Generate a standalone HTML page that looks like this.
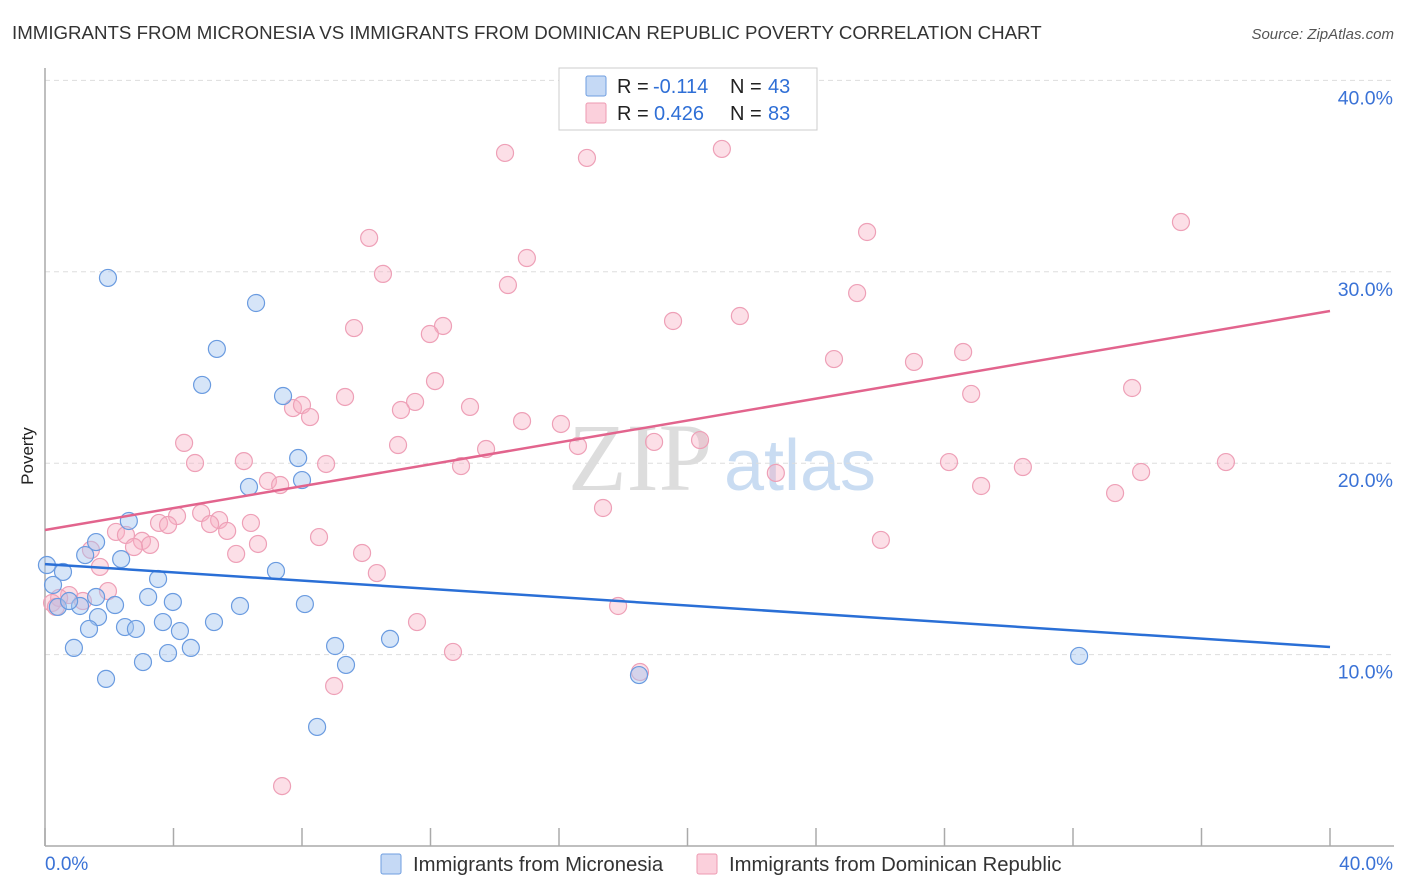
<!DOCTYPE html>
<html><head><meta charset="utf-8"><style>
body{margin:0;background:#fff;font-family:"Liberation Sans",sans-serif;}
svg{display:block}
</style></head><body>
<svg id="chart" width="1406" height="892">
<text x="12" y="39" font-size="18.7" fill="#333">IMMIGRANTS FROM MICRONESIA VS IMMIGRANTS FROM DOMINICAN REPUBLIC POVERTY CORRELATION CHART</text>
<text x="1394" y="39" font-size="15" fill="#555" font-style="italic" text-anchor="end">Source: ZipAtlas.com</text>
<text x="33" y="456" font-size="17" fill="#222" text-anchor="middle" transform="rotate(-90 33 456)">Poverty</text>
<text x="640" y="490" font-size="96" fill="#ddd" font-family="Liberation Serif,serif" text-anchor="middle">ZIP</text>
<text x="800" y="490" font-size="72" fill="#c9dcf2" text-anchor="middle">atlas</text>
<g id="grid"></g><g id="axes"></g><g id="pts"></g><g id="lines"></g>
<g>
<rect x="559" y="68" width="258" height="62" fill="#fff" stroke="#ccc"/>
<rect x="586" y="76" width="20" height="20" fill="#c5d9f5" stroke="#6f9ee0" rx="2"/>
<rect x="586" y="103" width="20" height="20" fill="#fbd0dc" stroke="#ee9ab2" rx="2"/>
<text x="617" y="93" font-size="20" fill="#222">R = <tspan x="653" fill="#2f6fd6">-0.114</tspan><tspan x="730">N = </tspan><tspan x="768" fill="#2f6fd6">43</tspan></text>
<text x="617" y="120" font-size="20" fill="#222">R = <tspan x="654" fill="#2f6fd6">0.426</tspan><tspan x="730">N = </tspan><tspan x="768" fill="#2f6fd6">83</tspan></text>
</g>
<g>
<rect x="381" y="854" width="20" height="20" fill="#c5d9f5" stroke="#6f9ee0" rx="2"/>
<text x="413" y="871" font-size="20.3" fill="#333">Immigrants from Micronesia</text>
<rect x="697" y="854" width="20" height="20" fill="#fbd0dc" stroke="#ee9ab2" rx="2"/>
<text x="729" y="871" font-size="20.3" fill="#333">Immigrants from Dominican Republic</text>
</g>
</svg>
<script>
const blueX=[1.96,6.57,5.35,4.89,7.41,7.88,8.00,6.35,2.61,1.59,1.25,2.37,0.06,0.56,7.19,3.52,0.25,3.21,1.59,3.98,2.18,0.40,1.09,8.09,6.07,0.75,1.65,3.67,5.26,2.49,2.83,1.37,4.20,10.74,9.03,0.90,3.83,4.54,3.05,9.37,1.90,18.49,32.19,8.47];
const blueY=[29.68,28.37,25.97,24.09,23.51,20.27,19.12,18.76,16.98,15.88,15.20,14.99,14.68,14.32,14.37,13.95,13.64,13.01,13.01,12.75,12.59,12.49,12.54,12.64,12.54,12.80,11.96,11.70,11.70,11.44,11.34,11.34,11.23,10.82,10.45,10.35,10.08,10.35,9.61,9.46,8.73,8.93,9.93,6.22];
const pinkX=[14.32,16.87,21.07,35.36,25.59,10.09,15.00,10.52,14.41,25.28,21.63,19.55,9.62,12.39,11.98,24.56,27.05,28.58,12.14,33.84,9.34,28.83,11.52,7.72,8.00,11.08,8.25,13.23,14.85,16.06,4.33,10.99,18.96,20.39,16.59,13.73,22.75,4.67,6.19,8.75,12.95,28.14,30.44,36.76,34.12,6.94,7.32,29.14,33.31,17.37,4.86,4.11,5.42,3.55,3.83,6.41,5.14,5.67,2.21,2.52,3.02,3.27,2.77,8.53,6.63,26.02,5.95,9.87,1.43,1.71,10.33,1.96,0.75,0.44,0.22,1.18,0.34,17.84,11.58,12.70,18.52,9.00,7.38];
const pinkY=[36.21,35.95,36.42,32.60,32.08,31.77,30.72,29.89,29.31,28.89,27.69,27.43,27.06,27.17,26.75,25.44,25.29,25.81,24.29,23.93,23.46,23.62,23.20,22.88,23.04,22.78,22.41,22.94,22.20,22.05,21.06,20.95,21.11,21.21,20.90,20.74,19.49,20.01,20.11,19.96,19.85,20.06,19.80,20.06,19.54,19.07,18.86,18.81,18.44,17.66,17.40,17.24,17.03,16.88,16.77,16.88,16.82,16.46,16.41,16.25,15.94,15.73,15.62,16.14,15.78,15.99,15.26,15.31,15.47,14.58,14.26,13.32,13.11,12.96,12.70,12.80,12.49,12.54,11.70,10.14,9.09,8.36,3.13];
const blueTrend=[14.73,10.40];
const pinkTrend=[16.51,27.95];
const yTicks=[10,20,30,40];
const yTickLabels=["10.0%","20.0%","30.0%","40.0%"];
const xTicks=[0,4,8,12,16,20,24,28,32,36,40];
const NS="http://www.w3.org/2000/svg";
const sx=v=>45+v*32.125, sy=v=>846-v*19.14;
function mk(tag,attrs,parent){const e=document.createElementNS(NS,tag);for(const k in attrs)e.setAttribute(k,attrs[k]);document.getElementById(parent).appendChild(e);return e;}
yTicks.forEach((t,i)=>{
  const l=mk('line',{x1:45,x2:1394,y1:sy(t),y2:sy(t),stroke:'#ddd','stroke-dasharray':'5,4'},'grid');
  
  
  const tx=mk('text',{x:1393,y:sy(t)+24,'font-size':19.5,fill:'#3a72d6','text-anchor':'end'},'axes');
  tx.textContent=yTickLabels[i];
  
  
});
const ax=mk('line',{x1:45,x2:45,y1:68,y2:846,stroke:'#aaa','stroke-width':1.5},'axes');


const bx=mk('line',{x1:45,x2:1394,y1:846,y2:846,stroke:'#aaa','stroke-width':1.5},'axes');


xTicks.forEach(t=>{
  const l=mk('line',{x1:sx(t),x2:sx(t),y1:828,y2:846,stroke:'#aaa','stroke-width':1.5},'axes');
  
  
});
const x0=mk('text',{x:45,y:870,'font-size':19,fill:'#3a72d6'},'axes');x0.textContent=xTicks[0].toFixed(1)+'%';


const x1=mk('text',{x:1393,y:870,'font-size':19,fill:'#3a72d6','text-anchor':'end'},'axes');x1.textContent=xTicks[xTicks.length-1].toFixed(1)+'%';


pinkX.forEach((v,i)=>{
  const c=mk('circle',{cx:sx(v),cy:sy(pinkY[i]),r:8.5,fill:'rgba(247,175,196,0.4)',stroke:'#eea0b7','stroke-width':1.2},'pts');
  
  
});
blueX.forEach((v,i)=>{
  const c=mk('circle',{cx:sx(v),cy:sy(blueY[i]),r:8.5,fill:'rgba(165,198,240,0.45)',stroke:'#6a9be0','stroke-width':1.2},'pts');
  
  
});
const bl=mk('line',{x1:sx(0),y1:sy(blueTrend[0]),x2:sx(40),y2:sy(blueTrend[1]),stroke:'#2a6fd6','stroke-width':2.5},'lines');


const pl=mk('line',{x1:sx(0),y1:sy(pinkTrend[0]),x2:sx(40),y2:sy(pinkTrend[1]),stroke:'#e2648d','stroke-width':2.5},'lines');


</script>
</body></html>
